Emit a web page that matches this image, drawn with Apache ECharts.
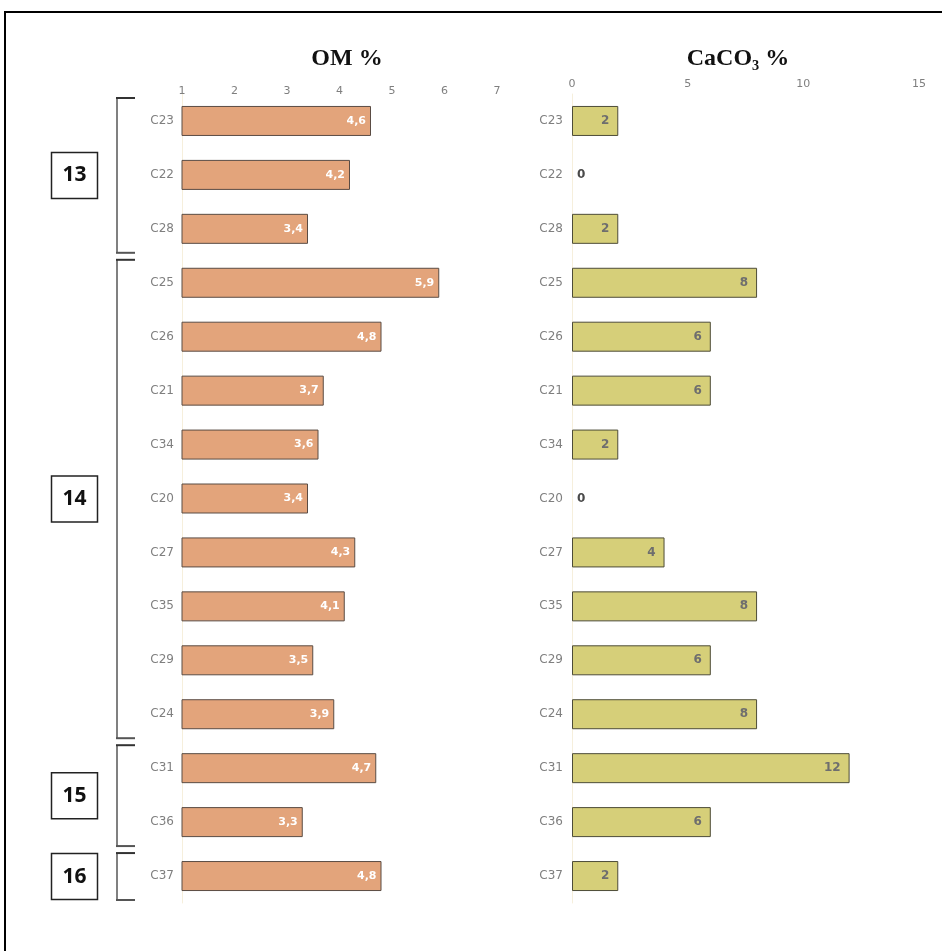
<!DOCTYPE html>
<html>
<head>
<meta charset="utf-8">
<script src="https://cdn.jsdelivr.net/npm/echarts@6/dist/echarts.min.js"></script>
<style>
  html, body { margin: 0; padding: 0; background: #fff; }
  #chart { width: 942px; height: 951px; }
</style>
</head>
<body>
<div id="chart"></div>
<script>
// Samples, top to bottom
const samples = ['C23', 'C22', 'C28', 'C25', 'C26', 'C21', 'C34', 'C20', 'C27', 'C35', 'C29', 'C24', 'C31', 'C36', 'C37'];
// Organic matter (%)
const omValues = [4.6, 4.2, 3.4, 5.9, 4.8, 3.7, 3.6, 3.4, 4.3, 4.1, 3.5, 3.9, 4.7, 3.3, 4.8];
// Carbonate content (%)
const caco3Values = [2, 0, 2, 8, 6, 6, 2, 0, 4, 8, 6, 8, 12, 6, 2];
// Groups: label, first sample index, last sample index
const groupNames = ['13', '14', '15', '16'];
const groupStart = [0, 3, 12, 14];
const groupEnd = [2, 11, 13, 14];
// Axis tick labels
const omTicks = [1, 2, 3, 4, 5, 6, 7];
const caco3Ticks = [0, 5, 10, 15];

const GRAY = '#7f7f7f';
const labelFont = 'DejaVu Sans';

const chart = echarts.init(document.getElementById('chart'));

const comma = v => String(v).replace('.', ',');

const option = {
  backgroundColor: '#fff',
  animation: false,
  title: [
    { text: 'OM %', left: 342, top: 42, textAlign: 'center',
      textStyle: { fontFamily: 'Liberation Serif', fontWeight: 'bold', fontSize: 24, color: '#111' } },
    { text: 'CaCO₃ %', left: 733, top: 42, textAlign: 'center',
      textStyle: { fontFamily: 'Liberation Serif', fontWeight: 'bold', fontSize: 24, color: '#111' } }
  ],
  grid: [
    { left: 182, right: 445, top: 94, bottom: 48 },
    { left: 572, right: 23, top: 94, bottom: 48 }
  ],
  xAxis: [
    { type: 'value', gridIndex: 0, position: 'top', min: omTicks[0], max: omTicks[omTicks.length - 1], interval: 1,
      axisLine: { show: false }, axisTick: { show: false }, splitLine: { show: false },
      axisLabel: { margin: -3, color: GRAY, fontFamily: labelFont, fontSize: 11 } },
    { type: 'value', gridIndex: 1, position: 'top', min: caco3Ticks[0], max: caco3Ticks[caco3Ticks.length - 1], interval: 5,
      axisLine: { show: false }, axisTick: { show: false }, splitLine: { show: false },
      axisLabel: { margin: 4, color: GRAY, fontFamily: labelFont, fontSize: 11 } }
  ],
  yAxis: [
    { type: 'category', gridIndex: 0, data: samples, inverse: true,
      axisLine: { show: true, lineStyle: { color: '#f6efdc', width: 1 } }, axisTick: { show: false },
      axisLabel: { margin: 8, color: GRAY, fontFamily: labelFont, fontSize: 12 } },
    { type: 'category', gridIndex: 1, data: samples, inverse: true,
      axisLine: { show: true, lineStyle: { color: '#f6efdc', width: 1 } }, axisTick: { show: false },
      axisLabel: { margin: 9, color: GRAY, fontFamily: labelFont, fontSize: 12 } }
  ],
  series: [
    { type: 'bar', xAxisIndex: 0, yAxisIndex: 0, data: omValues, barWidth: 30,
      itemStyle: { color: '#e3a47b', borderColor: '#5a4c44', borderWidth: 1 },
      label: { show: true, position: 'insideRight', distance: 5, color: '#fff', fontWeight: 'bold',
        fontFamily: labelFont, fontSize: 11, formatter: p => comma(p.value) } },
    { type: 'bar', xAxisIndex: 1, yAxisIndex: 1, barWidth: 30,
      data: caco3Values.map(v => v === 0
        ? { value: v, itemStyle: { borderWidth: 0 }, label: { position: 'right', distance: 5, color: '#4a4a4a' } }
        : { value: v }),
      itemStyle: { color: '#d6cf79', borderColor: '#4d4c38', borderWidth: 1 },
      label: { show: true, position: 'insideRight', distance: 9, color: '#6e6e6e', fontWeight: 'bold',
        fontFamily: labelFont, fontSize: 12, formatter: p => comma(p.value) } }
  ]
};

chart.setOption(option);

// Group brackets and boxes on the left, positioned from the category axis
function drawGroups() {
  const y0 = chart.convertToPixel({ yAxisIndex: 0 }, 0);
  const y1 = chart.convertToPixel({ yAxisIndex: 0 }, 1);
  const band = y1 - y0;
  const elements = [
    // frame
    { type: 'rect', shape: { x: 5, y: 12, width: 960, height: 960 },
      style: { fill: 'none', stroke: '#000', lineWidth: 2 }, z: 0 }
  ];
  groupNames.forEach((name, g) => {
    const top = chart.convertToPixel({ yAxisIndex: 0 }, groupStart[g]) - band / 2 + 4;
    const bottom = chart.convertToPixel({ yAxisIndex: 0 }, groupEnd[g]) + band / 2 - 3;
    const mid = (top + bottom) / 2;
    elements.push(
      { type: 'line', shape: { x1: 117, y1: top, x2: 117, y2: bottom }, style: { stroke: '#808080', lineWidth: 2 } },
      { type: 'line', shape: { x1: 116, y1: top, x2: 135, y2: top }, style: { stroke: '#333', lineWidth: 2 } },
      { type: 'line', shape: { x1: 116, y1: bottom, x2: 135, y2: bottom }, style: { stroke: '#555', lineWidth: 2 } },
      { type: 'rect', shape: { x: 51.5, y: mid - 23, width: 46, height: 46 },
        style: { fill: '#fff', stroke: '#222', lineWidth: 1.5 } },
      { type: 'text', x: 74.5, y: mid, style: { text: name, fill: '#111', font: 'bold 21px "Noto Sans"',
        align: 'center', verticalAlign: 'middle' } }
    );
  });
  chart.setOption({ graphic: { elements } });
}
drawGroups();
</script>
</body>
</html>
